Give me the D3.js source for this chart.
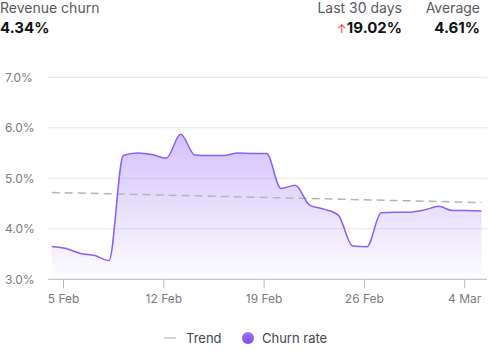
<!DOCTYPE html>
<html>
<head>
<meta charset="utf-8">
<script src="https://cdn.jsdelivr.net/npm/d3@7"></script>
<style>
  body { margin: 0; background: #fff; font-family: Inter, "Noto Sans", sans-serif; }
  .axis text { fill: #7a7a80; font-size: 12px; font-family: Inter, sans-serif; }
</style>
</head>
<body>
<div id="chart"></div>
<script>
// Daily churn rate (%), 4 Feb – 5 Mar 2024
const startDay = new Date(2024, 1, 4, 5);
const churnValues = [
  3.65, 3.61, 3.51, 3.47, 3.37, 5.45, 5.50, 5.47, 5.40, 5.87,
  5.46, 5.45, 5.45, 5.50, 5.49, 5.49, 4.80, 4.86, 4.47, 4.39,
  4.27, 3.66, 3.645, 4.32, 4.33, 4.33, 4.37, 4.445, 4.36, 4.36, 4.35
];
const trendValues = [4.72, 4.52];
const yTicks = [3, 4, 5, 6, 7];
const xTickDates = [new Date(2024, 1, 5), new Date(2024, 1, 12), new Date(2024, 1, 19), new Date(2024, 1, 26), new Date(2024, 2, 4)];
const headerStats = {title: 'Revenue churn', current: '4.34%', changeLabel: 'Last 30 days', change: '19.02%', avgLabel: 'Average', avg: '4.61%'};
const legendItems = ['Trend', 'Churn rate'];

const data = churnValues.map((v, i) => ({date: d3.timeDay.offset(startDay, i), value: v}));

const width = 488, height = 351;
const purple = '#8b5cf6';

const svg = d3.select('#chart').append('svg')
    .attr('width', width)
    .attr('height', height);

// Header
svg.append('text').attr('x', 0).attr('y', 13)
    .attr('font-size', 14).attr('fill', '#58585e').text(headerStats.title);
svg.append('text').attr('x', 0).attr('y', 33)
    .attr('font-size', 15).attr('font-weight', 700).attr('fill', '#111').text(headerStats.current);
svg.append('text').attr('x', 402).attr('y', 13).attr('text-anchor', 'end')
    .attr('font-size', 14).attr('fill', '#58585e').text(headerStats.changeLabel);
const chg = svg.append('text').attr('x', 402).attr('y', 33).attr('text-anchor', 'end')
    .attr('font-size', 15).attr('font-weight', 700).attr('fill', '#111');
chg.append('tspan').attr('fill', '#e5484d').attr('font-size', 12).attr('font-weight', 400).text('↑');
chg.append('tspan').text(headerStats.change);
svg.append('text').attr('x', 480).attr('y', 13).attr('text-anchor', 'end')
    .attr('font-size', 14).attr('fill', '#58585e').text(headerStats.avgLabel);
svg.append('text').attr('x', 480).attr('y', 33).attr('text-anchor', 'end')
    .attr('font-size', 15).attr('font-weight', 700).attr('fill', '#111').text(headerStats.avg);

// Scales
const xScale = d3.scaleTime()
    .domain([data[0].date, data[data.length - 1].date])
    .range([51.7, 481.5]);
const yScale = d3.scaleLinear()
    .domain([3, 7])
    .range([279.3, 77.3]);

// Gridlines
svg.append('g')
  .selectAll('line')
    .data(yTicks.slice(1))
  .join('line')
    .attr('x1', 48).attr('x2', 487)
    .attr('y1', d => yScale(d)).attr('y2', d => yScale(d))
    .attr('stroke', '#e6e6e8');

// Y labels
svg.append('g').attr('class', 'axis')
  .selectAll('text')
    .data(yTicks)
  .join('text')
    .attr('x', 5)
    .attr('y', d => yScale(d))
    .attr('dy', '0.35em')
    .text(d => d3.format('.1f')(d) + '%');

// Area gradient
const grad = svg.append('defs').append('linearGradient')
    .attr('id', 'area-grad')
    .attr('gradientUnits', 'userSpaceOnUse')
    .attr('x1', 0).attr('x2', 0)
    .attr('y1', yScale(5.9)).attr('y2', yScale(3));
grad.append('stop').attr('offset', 0).attr('stop-color', purple).attr('stop-opacity', 0.38);
grad.append('stop').attr('offset', 1).attr('stop-color', purple).attr('stop-opacity', 0.02);

const area = d3.area()
    .x(d => xScale(d.date))
    .y0(yScale(3))
    .y1(d => yScale(d.value))
    .curve(d3.curveMonotoneX);
const line = d3.line()
    .x(d => xScale(d.date))
    .y(d => yScale(d.value))
    .curve(d3.curveMonotoneX);

svg.append('path').datum(data)
    .attr('d', area)
    .attr('fill', 'url(#area-grad)');

// Trend
svg.append('line')
    .attr('x1', xScale(data[0].date)).attr('x2', xScale(data[data.length - 1].date))
    .attr('y1', yScale(trendValues[0])).attr('y2', yScale(trendValues[1]))
    .attr('stroke', '#b4b4b8').attr('stroke-width', 1.5)
    .attr('stroke-dasharray', '8,5');

svg.append('path').datum(data)
    .attr('d', line)
    .attr('fill', 'none')
    .attr('stroke', purple)
    .attr('stroke-width', 1.5);

// X axis
const xAxis = d3.axisBottom(xScale)
    .tickValues(xTickDates)
    .tickSize(9)
    .tickPadding(6)
    .tickFormat(d3.timeFormat('%-d %b'));
const xAxisG = svg.append('g').attr('class', 'axis')
    .attr('transform', `translate(0,${yScale(3)})`)
    .call(xAxis);
xAxisG.select('.domain').remove();
xAxisG.selectAll('.tick line').attr('stroke', '#b8b8bc');
xAxisG.append('line').attr('x1', 48).attr('x2', 487)
    .attr('stroke', '#b8b8bc');

// Legend
const legend = svg.append('g').attr('transform', 'translate(0,338)');
legend.append('line').attr('x1', 164).attr('x2', 176)
    .attr('stroke', '#c4c4c8').attr('stroke-width', 1.5);
legend.append('text').attr('x', 186).attr('dy', '0.35em')
    .attr('font-size', 13).attr('fill', '#46464c').text(legendItems[0]);
const dotGrad = svg.select('defs').append('linearGradient')
    .attr('id', 'dot-grad').attr('x1', 0).attr('x2', 0).attr('y1', 0).attr('y2', 1);
dotGrad.append('stop').attr('offset', 0).attr('stop-color', '#9d74f8');
dotGrad.append('stop').attr('offset', 1).attr('stop-color', '#7c4ee8');
legend.append('circle').attr('cx', 248).attr('cy', 0).attr('r', 6)
    .attr('fill', 'url(#dot-grad)');
legend.append('text').attr('x', 262).attr('dy', '0.35em')
    .attr('font-size', 13).attr('fill', '#46464c').text(legendItems[1]);
</script>
</body>
</html>
